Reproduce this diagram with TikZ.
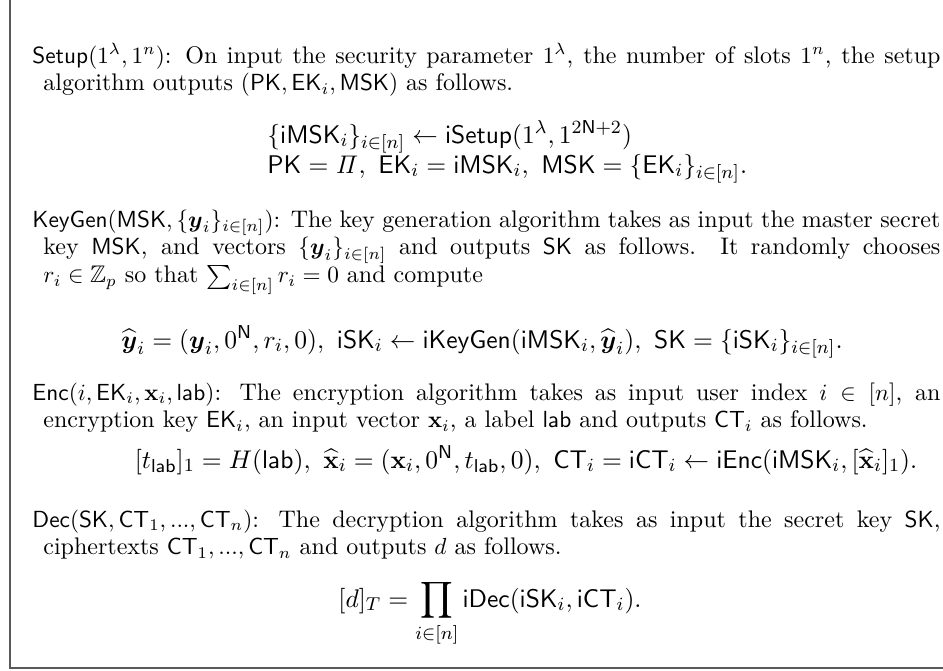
\documentclass[tikz,border=0pt]{standalone}
\usepackage{amsmath,amssymb}
\usepackage{tikz}

\newcommand{\algpar}[1]{\parbox[t]{389.7pt}{\fontsize{10.3}{12}\selectfont\hyphenpenalty=10000\hangindent=4.7pt\hangafter=1 #1}}

\begin{document}
\begin{tikzpicture}[x=0.4292pt,y=-0.4292pt,
    para/.style={anchor=base west,inner sep=0pt},
    deq/.style={anchor=base,inner sep=0pt,font=\fontsize{10.95}{12}\selectfont}]
  \useasboundingbox (0,0) rectangle (943,670);
  \draw[line width=0.9pt,black!65] (10,-10) -- (10,668) -- (960,668);

  \node[para] (setup) at (32,63) {\algpar{$\mathsf{Setup}(1^\lambda, 1^n)$: On input the security parameter $1^\lambda$, the number of slots $1^n$, the setup\linebreak algorithm outputs $(\mathsf{PK}, \mathsf{EK}_i, \mathsf{MSK})$ as follows.}};
  \node[deq,anchor=base west] (setupeqa) at (267,143) {$\{\mathsf{iMSK}_i\}_{i\in[n]} \leftarrow \mathsf{iSetup}(1^\lambda, 1^{2\mathsf{N}+2})$};
  \node[deq,anchor=base west] (setupeqb) at (267,173) {$\mathsf{PK} = \mathit{\Pi},\ \mathsf{EK}_i = \mathsf{iMSK}_i,\ \mathsf{MSK} = \{\mathsf{EK}_i\}_{i\in[n]}.$};

  \node[para] (keygen) at (32,227) {\algpar{$\mathsf{KeyGen}(\mathsf{MSK}, \{\boldsymbol{y}_i\}_{i\in[n]})$: The key generation algorithm takes as input the master secret\linebreak key $\mathsf{MSK}$, and vectors $\{\boldsymbol{y}_i\}_{i\in[n]}$ and outputs $\mathsf{SK}$ as follows. It randomly chooses\linebreak $r_i \in \mathbb{Z}_p$ so that $\sum_{i\in[n]} r_i = 0$ and compute}};
  \node[deq] (keygeneq) at (482,348) {$\widehat{\boldsymbol{y}}_i = (\boldsymbol{y}_i, 0^{\mathsf{N}}, r_i, 0),\ \mathsf{iSK}_i \leftarrow \mathsf{iKeyGen}(\mathsf{iMSK}_i, \widehat{\boldsymbol{y}}_i),\ \mathsf{SK} = \{\mathsf{iSK}_i\}_{i\in[n]}.$};

  \node[para] (enc) at (32,400) {\algpar{$\mathsf{Enc}(i, \mathsf{EK}_i, \mathbf{x}_i, \mathsf{lab})$: The encryption algorithm takes as input user index $i \in [n]$, an\linebreak encryption key $\mathsf{EK}_i$, an input vector $\mathbf{x}_i$, a label $\mathsf{lab}$ and outputs $\mathsf{CT}_i$ as follows.}};
  \node[deq] (enceq) at (526,468) {$[t_{\mathsf{lab}}]_1 = H(\mathsf{lab}),\ \widehat{\mathbf{x}}_i = (\mathbf{x}_i, 0^{\mathsf{N}}, t_{\mathsf{lab}}, 0),\ \mathsf{CT}_i = \mathsf{iCT}_i \leftarrow \mathsf{iEnc}(\mathsf{iMSK}_i, [\widehat{\mathbf{x}}_i]_1).$};

  \node[para] (dec) at (32,527) {\algpar{$\mathsf{Dec}(\mathsf{SK}, \mathsf{CT}_1, ..., \mathsf{CT}_n)$: The decryption algorithm takes as input the secret key $\mathsf{SK}$,\linebreak ciphertexts $\mathsf{CT}_1, ..., \mathsf{CT}_n$ and outputs $d$ as follows.}};
  \node[deq] (deceq) at (490,607) {$\displaystyle [d]_T = \prod_{i\in[n]} \mathsf{iDec}(\mathsf{iSK}_i, \mathsf{iCT}_i).$};
\end{tikzpicture}
\end{document}
